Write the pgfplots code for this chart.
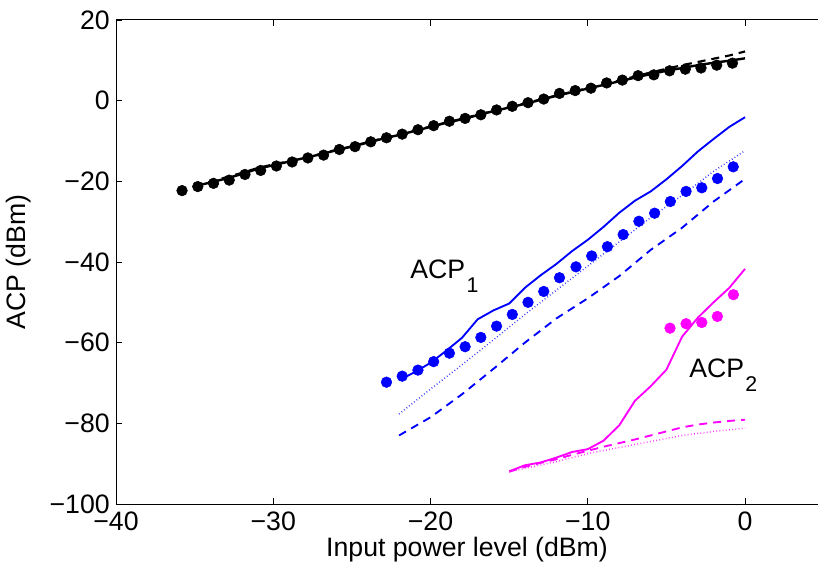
\documentclass[border=0pt]{standalone}
\usepackage{pgfplots}
\pgfplotsset{compat=1.18}
\usepackage{fontspec}
\setmainfont{Liberation Sans}
\definecolor{mblue}{RGB}{0,0,255}
\definecolor{mmag}{RGB}{255,0,255}
\begin{document}
\fontsize{20}{24}\selectfont
\begin{tikzpicture}
\begin{axis}[name=ax, scale only axis, width=526.5pt, height=363pt,
  xmin=-40, xmax=4.64, ymin=-100, ymax=20,
  axis x line*=box, axis y line*=left,
  axis line style={line width=0.75pt, black},
  tick align=inside, major tick length=4.5pt,
  tick style={line width=0.6pt, black},
  xtick={-40,-30,-20,-10,0}, xticklabels={−40,−30,−20,−10,0},
  ytick={-100,-80,-60,-40,-20,0,20}, yticklabels={−100,−80,−60,−40,−20,0,20},
  tick label style={font=\fontsize{20}{24}\selectfont, inner sep=0pt},
  xticklabel style={anchor=north, yshift=-5.5pt},
  yticklabel style={anchor=east, xshift=-4.5pt},
  xlabel={Input power level (dBm)},
  xlabel style={at={(axis description cs:0.5,-0.094)}, anchor=center, font=\fontsize{20}{24}\selectfont},
  ylabel={ACP (dBm)},
  ylabel style={at={(axis description cs:-0.139,0.5)}, anchor=center, font=\fontsize{20}{24}\selectfont},
  clip=false,
]
% black solid
\addplot[black, line width=1.8pt] coordinates {
(-35,-21.2)(-34,-20.3)(-33,-19.3)(-32,-18.2)(-31,-16.9)(-30,-16.0)(-29,-15.1)(-28,-14.2)
(-27,-13.3)(-26,-12.3)(-25,-11.4)(-24,-10.4)(-23,-9.4)(-22,-8.5)(-21,-7.5)(-20,-6.5)
(-19,-5.5)(-18,-4.6)(-17,-3.6)(-16,-2.6)(-15,-1.7)(-14,-0.8)(-13,0.2)(-12,1.2)
(-11,2.1)(-10,3.0)(-9,3.9)(-8,4.8)(-7,5.7)(-6,6.6)(-5,7.4)(-4,8.1)(-3,8.8)(-2,9.4)(-1,9.9)(0,10.5)};
% black dashed
\addplot[black, line width=1.6pt, dash pattern=on 6pt off 4.5pt] coordinates {
(-35,-21.0)(-34,-20.1)(-33,-19.0)(-32,-17.9)(-31,-16.7)(-30,-15.8)(-29,-15.0)(-28,-14.1)
(-27,-13.2)(-26,-12.2)(-25,-11.3)(-24,-10.3)(-23,-9.3)(-22,-8.4)(-21,-7.4)(-20,-6.4)
(-19,-5.4)(-18,-4.5)(-17,-3.5)(-16,-2.5)(-15,-1.6)(-14,-0.7)(-13,0.3)(-12,1.3)
(-11,2.2)(-10,3.1)(-9,4.0)(-8,5.0)(-7,6.0)(-6,7.0)(-5,7.9)(-4,8.8)(-3,9.6)(-2,10.4)(-1,11.2)(0,12.2)};
% black dots
\addplot[only marks, mark=*, mark size=4pt, black] coordinates {
(-35.8,-22.3)(-34.8,-21.3)(-33.8,-20.5)(-32.8,-19.7)(-31.8,-18.3)(-30.8,-17.3)(-29.8,-16.2)
(-28.8,-15.2)(-27.8,-14.2)(-26.8,-13.5)(-25.8,-12.1)(-24.8,-11.4)(-23.8,-10.2)(-22.8,-9.2)
(-21.8,-8.3)(-20.8,-7.2)(-19.8,-6.2)(-18.8,-5.1)(-17.8,-4.4)(-16.8,-3.5)(-15.8,-2.3)
(-14.8,-1.4)(-13.8,-0.5)(-12.8,0.4)(-11.8,1.8)(-10.8,2.5)(-9.8,3.1)(-8.8,4.4)(-7.8,5.1)
(-6.8,6.2)(-5.8,6.4)(-4.8,7.4)(-3.8,7.8)(-2.8,8.1)(-1.8,8.8)(-0.8,9.3)};
% blue solid
\addplot[mblue, line width=1.4pt] coordinates {
(-22,-69.3)(-21,-67.3)(-20,-65)(-19,-62)(-18,-58.8)(-17,-54.2)(-16,-52)(-15,-50.3)
(-14,-46.4)(-13,-43.3)(-12,-40.5)(-11,-37.3)(-10,-34.5)(-9,-31.3)(-8,-27.8)(-7,-24.8)
(-6,-22.5)(-5,-19.5)(-4,-16.2)(-3,-12.6)(-2,-9.5)(-1,-6.5)(0,-4.1)};
% blue dotted
\addplot[mblue!80, line width=1.1pt, dash pattern=on 0.6pt off 1.8pt] coordinates {
(-22,-77.7)(-20,-71.5)(-18,-65.5)(-16,-59.3)(-14,-53)(-12,-47)(-10,-41)(-8,-35)
(-6,-29)(-4,-23.5)(-2,-17.5)(0,-12.4)};
% blue dashed
\addplot[mblue, line width=1.4pt, dash pattern=on 6pt off 4.5pt] coordinates {
(-22,-83)(-20,-78.5)(-18,-72.8)(-16,-66.5)(-14,-60)(-12,-54)(-10,-49)(-8,-43.5)
(-6,-37)(-4,-31.5)(-2,-25)(0,-19.4)};
% blue dots
\addplot[only marks, mark=*, mark size=4pt, mblue] coordinates {
(-22.8,-69.8)(-21.8,-68.3)(-20.8,-66.8)(-19.8,-64.7)(-18.8,-62.6)(-17.8,-61.0)(-16.8,-58.7)
(-15.8,-55.9)(-14.8,-53.0)(-13.8,-50.0)(-12.8,-47.3)(-11.8,-43.9)(-10.75,-41.2)(-9.75,-38.5)
(-8.75,-36.2)(-7.75,-33.2)(-6.75,-29.9)(-5.75,-27.9)(-4.75,-25.0)(-3.75,-22.5)(-2.75,-21.6)
(-1.75,-19.3)(-0.75,-16.4)};
% magenta solid
\addplot[mmag, line width=1.4pt] coordinates {
(-15,-91.9)(-14,-90.4)(-13,-89.7)(-12,-88.5)(-11,-87.1)(-10,-86.4)(-9,-84.3)(-8,-80.5)
(-7,-74.4)(-6,-70.8)(-5,-66.7)(-4,-58.5)(-3,-53.8)(-2,-50)(-1,-46.4)(0,-41.7)};
% magenta dashed
\addplot[mmag, line width=1.4pt, dash pattern=on 6pt off 4.5pt] coordinates {
(-15,-92)(-14,-90.8)(-13,-89.8)(-12,-88.9)(-11,-87.8)(-10,-86.8)(-9,-85.8)(-8,-84.9)
(-7,-84)(-6,-83)(-5,-82)(-4,-81)(-3,-80.3)(-2,-79.8)(-1,-79.4)(0,-79.1)};
% magenta dotted
\addplot[mmag!80, line width=1.1pt, dash pattern=on 0.6pt off 1.8pt] coordinates {
(-15,-92)(-12,-89.5)(-10,-87.5)(-8,-86)(-6,-84.5)(-4,-83)(-2,-82)(0,-81.2)};
% magenta dots
\addplot[only marks, mark=*, mark size=4pt, mmag] coordinates {
(-4.77,-56.4)(-3.75,-55.3)(-2.75,-55.0)(-1.76,-53.5)(-0.74,-48.1)};
\node[anchor=base west, inner sep=0pt] at (axis cs:-21.3,-44.0) {ACP\kern1pt\raisebox{-10.5pt}{\fontsize{16}{16}\selectfont 1}};
\node[anchor=base west, inner sep=0pt] at (axis cs:-3.56,-68.65) {ACP\kern1pt\raisebox{-10.5pt}{\fontsize{16}{16}\selectfont 2}};
\end{axis}
\pgfresetboundingbox
\path ([shift={(-87pt,-51pt)}]ax.south west) rectangle ([shift={(0pt,15pt)}]ax.north east);
\end{tikzpicture}
\end{document}
